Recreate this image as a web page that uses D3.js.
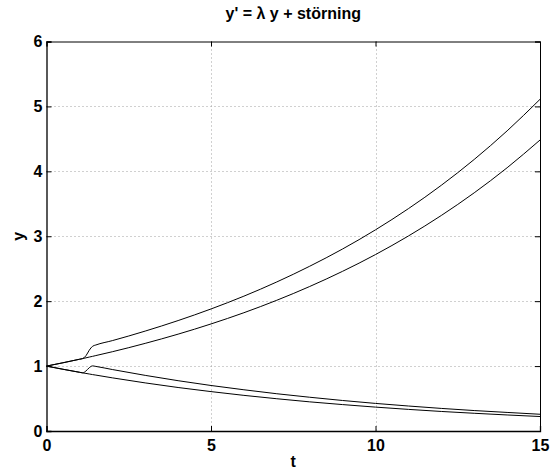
<!DOCTYPE html>
<html>
<head>
<meta charset="utf-8">
<script src="https://cdn.jsdelivr.net/npm/d3@7"></script>
<style>
  html, body { margin: 0; padding: 0; background: #fff; }
  svg { display: block; }
  text { font-family: "Liberation Sans", Arial, Helvetica, sans-serif; font-weight: bold; fill: #000; }
</style>
</head>
<body>
<svg id="chart" width="554" height="470"></svg>
<script>
// Time samples (denser around the disturbance at t ≈ 1.1–1.5)
const tValues = [0, 0.5, 1, 1.1, 1.2, 1.3, 1.4, 1.5, 2, 3, 4, 5, 6, 7, 8, 9, 10, 11, 12, 13, 14, 15];

// Growing solution, undisturbed
const growBase = [1.000, 1.051, 1.105, 1.116, 1.127, 1.139, 1.150, 1.162, 1.221, 1.350, 1.492, 1.649, 1.822, 2.014, 2.226, 2.460, 2.718, 3.004, 3.320, 3.669, 4.055, 4.482];
// Growing solution, with disturbance
const growDist = [1.000, 1.051, 1.105, 1.116, 1.160, 1.245, 1.305, 1.325, 1.392, 1.539, 1.701, 1.880, 2.077, 2.296, 2.538, 2.804, 3.099, 3.425, 3.785, 4.183, 4.623, 5.109];
// Decaying solution, undisturbed
const decayBase = [1.000, 0.951, 0.905, 0.896, 0.887, 0.878, 0.869, 0.861, 0.819, 0.741, 0.670, 0.607, 0.549, 0.497, 0.449, 0.407, 0.368, 0.333, 0.301, 0.273, 0.247, 0.223];
// Decaying solution, with disturbance
const decayDist = [1.000, 0.951, 0.905, 0.896, 0.925, 0.975, 1.003, 0.995, 0.947, 0.857, 0.775, 0.701, 0.635, 0.574, 0.520, 0.470, 0.425, 0.385, 0.348, 0.315, 0.286, 0.258];

const xTicks = [0, 5, 10, 15];
const yTicks = [0, 1, 2, 3, 4, 5, 6];
const titleText = "y' = \u03bb y + störning";
const xLabel = "t";
const yLabel = "y";

const svg = d3.select("#chart");
const margin = { left: 46.5, right: 14, top: 41.5, bottom: 39 };
const W = 554, H = 470;
const x = d3.scaleLinear().domain([0, 15]).range([margin.left, W - margin.right]);
const y = d3.scaleLinear().domain([0, 6]).range([H - margin.bottom, margin.top]);

const x0 = x.range()[0], x1 = x.range()[1];
const yB = y.range()[0], yT = y.range()[1];
const fontFamily = "Liberation Sans, Arial, sans-serif";

// Dotted grid
const grid = svg.append("g").attr("stroke", "#a0a0a0").attr("stroke-width", 1).attr("stroke-dasharray", "1,3");
xTicks.filter(d => d > 0 && d < 15).forEach(d => {
  grid.append("line").attr("x1", Math.round(x(d)) + 0.5).attr("x2", Math.round(x(d)) + 0.5).attr("y1", yT).attr("y2", yB);
});
yTicks.filter(d => d > 0 && d < 6).forEach(d => {
  grid.append("line").attr("y1", Math.round(y(d)) + 0.5).attr("y2", Math.round(y(d)) + 0.5).attr("x1", x0).attr("x2", x1);
});

// Curves
const line = d3.line().x((d, i) => x(tValues[i])).y(d => y(d)).curve(d3.curveMonotoneX);
[growBase, growDist, decayBase, decayDist].forEach(series => {
  svg.append("path").datum(series).attr("d", line)
    .attr("fill", "none").attr("stroke", "#000").attr("stroke-width", 1);
});

// Axes with inward ticks on all four sides
const tickLen = 5;
svg.append("g").attr("transform", `translate(0,${yB})`)
  .call(d3.axisBottom(x).tickValues(xTicks).tickSize(-tickLen).tickPadding(9).tickFormat(d3.format("d")))
  .call(g => g.select(".domain").attr("stroke-width", 1.3))
  .call(g => g.selectAll("text").attr("font-size", 16).attr("font-weight", "bold").attr("font-family", fontFamily));
svg.append("g").attr("transform", `translate(0,${yT})`)
  .call(d3.axisTop(x).tickValues(xTicks).tickSize(-tickLen).tickFormat(""))
  .call(g => g.select(".domain").attr("stroke-width", 1));
svg.append("g").attr("transform", `translate(${x0},0)`)
  .call(d3.axisLeft(y).tickValues(yTicks).tickSize(-tickLen).tickPadding(4).tickFormat(d3.format("d")))
  .call(g => g.select(".domain").attr("stroke-width", 1.3))
  .call(g => g.selectAll("text").attr("font-size", 16).attr("font-weight", "bold").attr("font-family", fontFamily));
svg.append("g").attr("transform", `translate(${x1},0)`)
  .call(d3.axisRight(y).tickValues(yTicks).tickSize(-tickLen).tickFormat(""))
  .call(g => g.select(".domain").attr("stroke-width", 1));
svg.selectAll(".tick line").attr("stroke", "#000");
svg.selectAll(".domain").attr("stroke", "#000");

// Title and axis labels
svg.append("text").attr("x", (x0 + x1) / 2).attr("y", 19).attr("text-anchor", "middle")
  .attr("font-size", 16).text(titleText);
svg.append("text").attr("x", (x0 + x1) / 2).attr("y", 467).attr("text-anchor", "middle")
  .attr("font-size", 16).text(xLabel);
svg.append("text").attr("transform", `translate(24,${(yT + yB) / 2}) rotate(-90)`).attr("text-anchor", "middle")
  .attr("font-size", 16).text(yLabel);
</script>
</body>
</html>
